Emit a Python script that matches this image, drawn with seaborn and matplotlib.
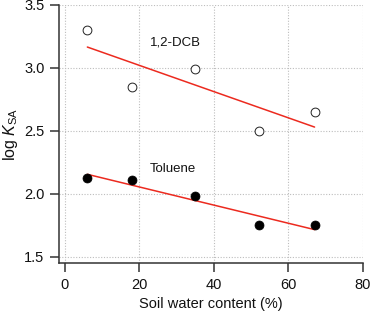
import numpy as np
import pandas as pd
import matplotlib
matplotlib.use('Agg')
import matplotlib.pyplot as plt
import seaborn as sns

# data
water = [6, 18, 35, 52, 67]
dcb = [3.30, 2.85, 2.99, 2.50, 2.65]
toluene = [2.125, 2.11, 1.98, 1.75, 1.75]

df = pd.DataFrame({'water': water * 2,
                   'logK': dcb + toluene,
                   'compound': ['1,2-DCB'] * 5 + ['Toluene'] * 5})

sns.set_style('white')
plt.rcParams['font.family'] = ['Liberation Sans', 'DejaVu Sans']
plt.rcParams['mathtext.fontset'] = 'custom'
plt.rcParams['mathtext.it'] = 'Liberation Sans:italic'
plt.rcParams['mathtext.rm'] = 'Liberation Sans'
plt.rcParams['text.color'] = '#111111'
plt.rcParams['axes.labelcolor'] = '#111111'
plt.rcParams['xtick.labelcolor'] = '#111111'
plt.rcParams['ytick.labelcolor'] = '#111111'

fig = plt.figure(figsize=(3.71, 3.14), dpi=100)
ax = fig.add_axes([59 / 371, 51 / 314, 304 / 371, 258 / 314])

# regression lines
for name in ['1,2-DCB', 'Toluene']:
    sub = df[df['compound'] == name]
    sns.regplot(data=sub, x='water', y='logK', scatter=False, ci=None,
                truncate=True, color='#ec2a1f', line_kws={'lw': 1.1}, ax=ax)

# points
sns.scatterplot(data=df[df['compound'] == '1,2-DCB'], x='water', y='logK',
                marker='o', s=40, facecolor='white', edgecolor='#222222',
                linewidth=0.7, ax=ax, zorder=3)
sns.scatterplot(data=df[df['compound'] == 'Toluene'], x='water', y='logK',
                marker='o', s=42, color='black', edgecolor='black',
                linewidth=0.5, ax=ax, zorder=3)

ax.text(22.8, 3.2, '1,2-DCB', fontsize=9.5, va='center', ha='left')
ax.text(22.8, 2.2, 'Toluene', fontsize=9.5, va='center', ha='left')

ax.set_xlim(-1.61, 80)
ax.set_ylim(1.452, 3.5)
ax.set_xticks([0, 20, 40, 60, 80])
ax.set_yticks([1.5, 2.0, 2.5, 3.0, 3.5])
ax.set_yticklabels(['1.5', '2.0', '2.5', '3.0', '3.5'])

ax.grid(True, linestyle=(0, (1, 1.5)), color='#bdbdbd', lw=0.8)
ax.set_axisbelow(True)

for s in ['top', 'right']:
    ax.spines[s].set_visible(False)
for s in ['left', 'bottom']:
    ax.spines[s].set_color('#333333')
    ax.spines[s].set_linewidth(1.1)
ax.tick_params(axis='both', direction='out', length=6.5, width=1.1,
               color='#333333', labelsize=10.5, left=True, bottom=True)
ax.tick_params(axis='x', pad=4)
ax.tick_params(axis='y', pad=4)

ax.set_xlabel('Soil water content (%)', fontsize=10.5, labelpad=4)
ax.set_ylabel(r'log $K_{\mathrm{SA}}$', fontsize=11.5, labelpad=3)

fig.savefig('out.png', dpi=100)
